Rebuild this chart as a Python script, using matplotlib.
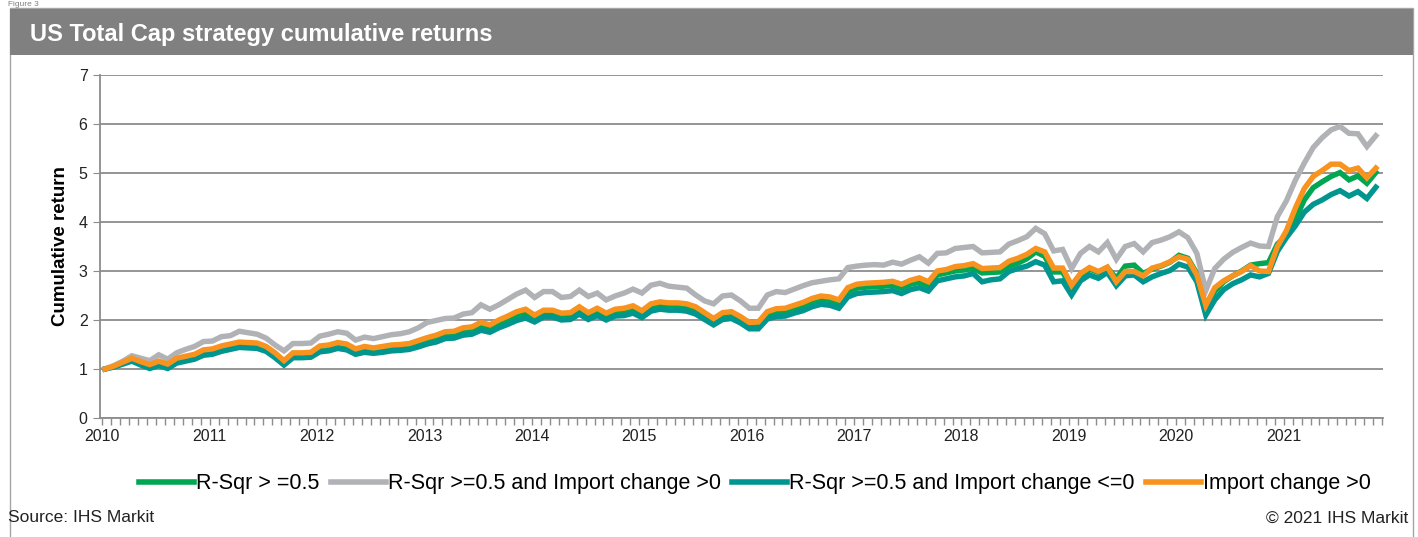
import matplotlib.pyplot as plt
from matplotlib.patches import Rectangle
from matplotlib.lines import Line2D

plt.rcParams['font.family'] = ['Liberation Sans', 'DejaVu Sans']

# monthly cumulative returns, Jan 2010 onwards
r_sqr = [1.00, 1.05, 1.12, 1.19, 1.12, 1.05, 1.12, 1.06, 1.18, 1.22, 1.26, 1.34,
         1.36, 1.42, 1.46, 1.50, 1.49, 1.48, 1.41, 1.29, 1.13, 1.29, 1.29, 1.30,
         1.42, 1.44, 1.49, 1.46, 1.36, 1.41, 1.38, 1.41, 1.44, 1.45, 1.47, 1.52,
         1.58, 1.63, 1.69, 1.70, 1.77, 1.79, 1.87, 1.83, 1.93, 2.00, 2.08, 2.14,
         2.04, 2.13, 2.14, 2.09, 2.10, 2.21, 2.11, 2.19, 2.09, 2.16, 2.18, 2.23,
         2.13, 2.27, 2.31, 2.29, 2.29, 2.27, 2.21, 2.09, 1.97, 2.09, 2.11, 2.01,
         1.89, 1.90, 2.11, 2.16, 2.17, 2.23, 2.29, 2.37, 2.42, 2.40, 2.34, 2.58,
         2.65, 2.67, 2.68, 2.69, 2.71, 2.65, 2.73, 2.77, 2.70, 2.92, 2.96, 3.00,
         3.02, 3.06, 2.96, 2.97, 2.98, 3.10, 3.16, 3.25, 3.39, 3.30, 2.98, 2.98,
         2.65, 2.90, 3.04, 2.97, 3.07, 2.85, 3.10, 3.12, 2.95, 3.04, 3.10, 3.18,
         3.32, 3.26, 2.95, 2.22, 2.58, 2.78, 2.90, 3.00, 3.12, 3.15, 3.17, 3.55,
         3.72, 4.05, 4.45, 4.70, 4.82, 4.93, 5.01, 4.86, 4.94, 4.79, 5.01]

r_sqr_imp_up = [1.00, 1.07, 1.16, 1.27, 1.22, 1.17, 1.29, 1.20, 1.33, 1.40, 1.46, 1.56,
                1.57, 1.66, 1.68, 1.77, 1.74, 1.71, 1.63, 1.49, 1.37, 1.52, 1.52, 1.53,
                1.67, 1.71, 1.76, 1.73, 1.59, 1.65, 1.62, 1.66, 1.70, 1.72, 1.76, 1.84,
                1.95, 1.99, 2.03, 2.04, 2.12, 2.15, 2.31, 2.22, 2.31, 2.42, 2.53, 2.61,
                2.46, 2.58, 2.58, 2.46, 2.48, 2.61, 2.48, 2.55, 2.41, 2.49, 2.55, 2.63,
                2.55, 2.71, 2.75, 2.69, 2.67, 2.65, 2.51, 2.39, 2.33, 2.49, 2.51, 2.39,
                2.24, 2.24, 2.51, 2.58, 2.56, 2.63, 2.70, 2.76, 2.79, 2.82, 2.84, 3.07,
                3.10, 3.12, 3.13, 3.12, 3.18, 3.14, 3.22, 3.29, 3.16, 3.36, 3.37, 3.46,
                3.48, 3.50, 3.37, 3.38, 3.39, 3.55, 3.62, 3.70, 3.87, 3.76, 3.41, 3.44,
                3.05, 3.36, 3.50, 3.39, 3.58, 3.24, 3.50, 3.56, 3.39, 3.58, 3.63, 3.70,
                3.80, 3.68, 3.36, 2.60, 3.05, 3.24, 3.38, 3.48, 3.57, 3.51, 3.50, 4.11,
                4.43, 4.85, 5.20, 5.52, 5.72, 5.88, 5.95, 5.81, 5.80, 5.54, 5.76]

r_sqr_imp_down = [1.00, 1.04, 1.10, 1.16, 1.08, 1.01, 1.07, 1.01, 1.12, 1.16, 1.20, 1.28,
                  1.30, 1.36, 1.40, 1.44, 1.43, 1.42, 1.36, 1.23, 1.08, 1.23, 1.23, 1.24,
                  1.35, 1.37, 1.42, 1.39, 1.30, 1.34, 1.32, 1.34, 1.37, 1.38, 1.40, 1.45,
                  1.51, 1.55, 1.62, 1.63, 1.69, 1.71, 1.79, 1.75, 1.84, 1.91, 1.99, 2.04,
                  1.96, 2.06, 2.06, 2.00, 2.01, 2.12, 2.01, 2.09, 2.00, 2.08, 2.09, 2.14,
                  2.05, 2.18, 2.22, 2.20, 2.20, 2.18, 2.12, 2.01, 1.90, 2.01, 2.03, 1.94,
                  1.82, 1.82, 2.02, 2.07, 2.08, 2.14, 2.19, 2.27, 2.32, 2.30, 2.24, 2.47,
                  2.54, 2.56, 2.57, 2.58, 2.60, 2.54, 2.62, 2.66, 2.59, 2.80, 2.84, 2.88,
                  2.90, 2.95, 2.78, 2.82, 2.84, 2.99, 3.05, 3.10, 3.19, 3.12, 2.78, 2.80,
                  2.51, 2.80, 2.92, 2.85, 2.97, 2.70, 2.90, 2.92, 2.78, 2.88, 2.95, 3.01,
                  3.14, 3.08, 2.78, 2.10, 2.41, 2.62, 2.74, 2.82, 2.92, 2.88, 2.95, 3.40,
                  3.68, 3.92, 4.20, 4.36, 4.45, 4.56, 4.64, 4.53, 4.62, 4.48, 4.71]

imp_up = [1.00, 1.06, 1.14, 1.22, 1.15, 1.09, 1.16, 1.10, 1.22, 1.26, 1.30, 1.39,
          1.41, 1.47, 1.51, 1.55, 1.54, 1.53, 1.46, 1.33, 1.17, 1.33, 1.33, 1.34,
          1.47, 1.49, 1.54, 1.51, 1.41, 1.46, 1.43, 1.46, 1.49, 1.50, 1.52, 1.58,
          1.64, 1.69, 1.76, 1.77, 1.84, 1.86, 1.95, 1.90, 2.00, 2.08, 2.17, 2.22,
          2.10, 2.20, 2.20, 2.14, 2.15, 2.27, 2.15, 2.24, 2.14, 2.22, 2.24, 2.29,
          2.19, 2.33, 2.37, 2.35, 2.35, 2.33, 2.27, 2.15, 2.03, 2.15, 2.17, 2.07,
          1.95, 1.96, 2.17, 2.23, 2.24, 2.30, 2.36, 2.44, 2.49, 2.47, 2.41, 2.66,
          2.73, 2.75, 2.76, 2.77, 2.79, 2.73, 2.81, 2.86, 2.78, 3.00, 3.03, 3.09,
          3.11, 3.15, 3.05, 3.06, 3.07, 3.20, 3.26, 3.34, 3.46, 3.39, 3.06, 3.06,
          2.71, 2.95, 3.07, 2.99, 3.08, 2.78, 2.99, 2.99, 2.90, 3.06, 3.11, 3.19,
          3.29, 3.24, 2.92, 2.30, 2.66, 2.80, 2.90, 2.99, 3.11, 3.00, 2.99, 3.50,
          3.82, 4.28, 4.68, 4.93, 5.05, 5.18, 5.18, 5.05, 5.10, 4.90, 5.10]

years = ['2010', '2011', '2012', '2013', '2014', '2015', '2016', '2017', '2018', '2019', '2020', '2021']
names = ['R-Sqr > =0.5', 'R-Sqr >=0.5 and Import change >0',
         'R-Sqr >=0.5 and Import change <=0', 'Import change >0']
colors = ['#00A651', '#B1B2B6', '#00968F', '#F7931E']

fig = plt.figure(figsize=(14.18, 5.37), dpi=100)
W, H = 1418, 537

# frame and title bar
fig.patches.append(Rectangle((10 / W, -0.01), 1403 / W, 1 - 8 / 537 + 0.01, transform=fig.transFigure,
                             fill=False, edgecolor='#a6a6a6', lw=1.0))
fig.patches.append(Rectangle((10 / W, 1 - 55 / H), 1403 / W, 46 / H, transform=fig.transFigure,
                             facecolor='#808080', edgecolor='none'))
fig.text(30 / W, 1 - 35 / H, 'US Total Cap strategy cumulative returns', color='white',
         fontsize=17, fontweight='bold', va='center', ha='left')
fig.text(8 / W, 1 - 1 / H, 'Figure 3', color='#808080', fontsize=6, va='top', ha='left')

ax = fig.add_axes([100 / W, 1 - 418 / H, 1283 / W, 343 / H])
x = list(range(len(imp_up)))
for ys, c, n in zip([r_sqr, r_sqr_imp_up, r_sqr_imp_down, imp_up], colors, names):
    ax.plot(x, ys, color=c, lw=3.9, label=n, solid_joinstyle='miter')

ax.set_ylim(0, 7)
ax.set_xlim(-0.56, 142.8)
ax.set_yticks(range(8))
ax.set_xticks([12 * k - 0.3 for k in range(len(years))])
ax.set_xticklabels(years)
ax.set_xticks([m - 0.3 for m in range(144)], minor=True)
ax.grid(axis='y', color='#8c8c8c', lw=1.3)
ax.set_axisbelow(True)
for s in ['top', 'right']:
    ax.spines[s].set_visible(False)
for s in ['left', 'bottom']:
    ax.spines[s].set_color('#8c8c8c')
    ax.spines[s].set_linewidth(1.3)
ax.tick_params(axis='y', length=5, color='#8c8c8c', labelsize=11.5, labelcolor='#222222', pad=4)
ax.tick_params(axis='x', which='both', length=5, color='#8c8c8c', width=1.0)
ax.tick_params(axis='x', which='major', labelsize=11.5, labelcolor='#222222', pad=3)
ax.set_ylabel('Cumulative return', fontsize=13.5, fontweight='bold', labelpad=7)

handles = [Line2D([], [], color=c, lw=4) for c in colors]
fig.legend(handles, names, loc='center', bbox_to_anchor=(755 / W, 1 - 484 / H), ncol=4,
           frameon=False, fontsize=15.5, handlelength=2.55, handletextpad=0.08, columnspacing=0.55)

fig.text(8 / W, 1 - 518 / H, 'Source: IHS Markit', fontsize=12.5, va='center', ha='left', color='#222222')
fig.text(1408 / W, 1 - 518 / H, '\u00a9 2021 IHS Markit', fontsize=12.5, va='center', ha='right', color='#222222')

fig.savefig('out.png', dpi=100)
